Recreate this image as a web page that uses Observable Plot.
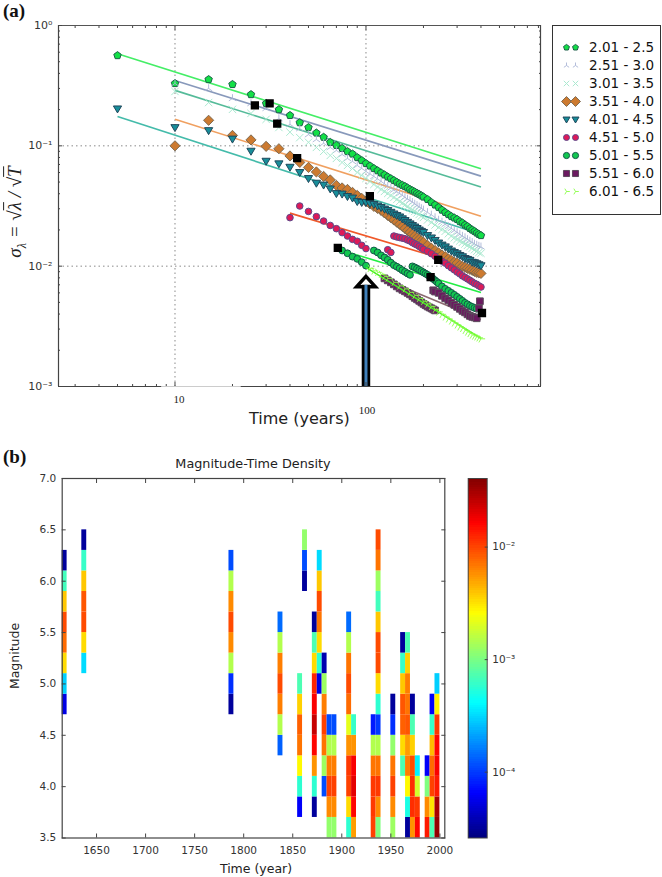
<!DOCTYPE html>
<html><head><meta charset="utf-8">
<style>
html,body{margin:0;padding:0;background:#fff;width:662px;height:877px;overflow:hidden}
#page{position:relative;width:662px;height:877px;font-family:"DejaVu Sans",sans-serif}
#page>*{position:absolute}
#page svg{display:block;background:transparent}
.tag{font:bold 19px "Liberation Serif",serif;color:#111;line-height:1}
.lab{color:#222;white-space:nowrap;line-height:1}
.over{text-decoration:overline}
</style>
<script src="https://cdn.jsdelivr.net/npm/d3@7"></script>
<script src="https://cdn.jsdelivr.net/npm/@observablehq/plot@0.6"></script>
</head><body><div id="page"></div>
<script>
// ---------- panel (a) data ----------
const seriesNames = ["2.01 - 2.5","2.51 - 3.0","3.01 - 3.5","3.51 - 4.0","4.01 - 4.5","4.51 - 5.0","5.01 - 5.5","5.51 - 6.0","6.01 - 6.5"];
const timesFull = [5,10,15,20,25,30,35,40,45,50,55,60,65,70,75,80,85,90,95,100,105,110,115,120,125,130,135,140,145,150,155,160,165,170,175,180,185,190,195,200,210,220,230,240,250,260,270,280,290,300,310,320,330,340,350,360,370,380,390,400];
const sigma1 = [.563,.33,.356,.324,.267,.225,.2,.179,.156,.142,.128,.118,.107,.101,.0953,.0897,.0856,.08,.0756,.0714,.0681,.0649,.0622,.0596,.0574,.0552,.0534,.0516,.0499,.0483,.0471,.046,.0447,.0434,.0424,.0414,.0404,.0395,.0385,.0376,.0359,.0339,.0323,.0308,.0293,.028,.0269,.0259,.0252,.0245,.0235,.0229,.022,.0214,.0206,.02,.0195,.0189,.0184,.018];
const sigma2 = [.33,.3,.248,.225,.205,.169,.151,.139,.124,.113,.105,.097,.0916,.0848,.0786,.0742,.0687,.0649,.0613,.0585,.0557,.0531,.0506,.0484,.0464,.0447,.043,.0416,.0402,.0387,.0373,.0362,.0352,.034,.0329,.032,.0311,.0302,.0294,.028,.0267,.0254,.0242,.0233,.0223,.0214,.0206,.0198,.0191,.0184,.0178,.0173,.0167,.0162,.0158,.0153,.015,.0147,.0145];
const sigma3 = [.283,.229,.201,.186,.166,.142,.13,.117,.107,.097,.0898,.0832,.0786,.0728,.0687,.0649,.0601,.0568,.0536,.0506,.0478,.0455,.0434,.0418,.0402,.0387,.0373,.0359,.0345,.0334,.0323,.0312,.0302,.0293,.0285,.0277,.0269,.0261,.0254,.0242,.0231,.022,.021,.0202,.0195,.0186,.0178,.0172,.0167,.0162,.0158,.0153,.0149,.0145,.0141,.0137,.0133,.013,.0128];
const sigma4 = [.1,.163,.122,.112,.099,.0946,.0824,.0728,.0661,.0607,.0557,.0521,.0469,.0447,.0434,.041,.0387,.0366,.0345,.0329,.0314,.0302,.0291,.0277,.0264,.0253,.0242,.0232,.0223,.0214,.0206,.0198,.0191,.0184,.0178,.0172,.0167,.0162,.0158,.0149,.0141,.0135,.0129,.0124,.012,.0115,.0112,.0108,.0106,.0102,.00996,.00977,.00959,.00941,.00923,.00905,.00888,.0088,.00871];
const sigma5 = [.203,.142,.134,.114,.0904,.0746,.071,.0665,.0601,.0536,.049,.0473,.0439,.0402,.0398,.038,.0369,.0345,.0339,.0339,.0332,.0326,.0317,.0308,.0299,.0291,.0281,.0272,.0264,.0257,.0248,.024,.0232,.0225,.0218,.0212,.0206,.02,.0195,.0191,.018,.0172,.0164,.0156,.015,.0145,.0139,.0134,.013,.0127,.0123,.012,.0116,.0114,.0112,.0108,.0107,.0105,.0103,.0101];
const times6 = [40,45,50,55,60,65,70,75,80,85,90,95,100,130,135,140,145,150,155,160,165,170,175,180,185,190,195,200,210,220,230,240,250,260,270,280,290,300,310,320,330,340,350,360,370,380,390,400];
const sigma6 = [.0253,.0316,.0285,.0258,.0237,.0218,.0205,.019,.0178,.0167,.0161,.0149,.014,.0137,.013,.0178,.0175,.0173,.0171,.0169,.0165,.0162,.0157,.0153,.015,.0146,.0142,.0138,.0133,.0127,.0121,.0115,.011,.0106,.0101,.00968,.00932,.00894,.00863,.0083,.00807,.00784,.00762,.0074,.00719,.00706,.00686,.00671];
const times7 = [75,80,85,90,95,100,110,115,120,125,130,135,140,145,150,155,160,165,170,175,180,185,190,195,200,205,210,215,220,225,230,235,240,250,260,270,280,290,300,310,320,330,340,350,360,370,380];
const sigma7 = [.0135,.0128,.012,.0115,.0108,.0101,.0135,.013,.0123,.0118,.0113,.0107,.0102,.0099,.00959,.00925,.00897,.0087,.00847,.00996,.00977,.00955,.00932,.0091,.00888,.00867,.00847,.00827,.00807,.00784,.00762,.0074,.00719,.00679,.00648,.00624,.006,.00578,.00556,.00535,.00515,.00496,.00482,.00468,.00459,.0045,.00443];
const times8 = [125,130,135,140,145,150,155,160,165,170,175,180,185,190,195,200,205,210,215,220,225,230,225,230,240,250,260,270,280,290,300,310,320,330,340,350,360,370,380,390,395];
const sigma8 = [.00792,.00762,.00734,.00706,.00679,.00654,.00636,.00618,.006,.00583,.00563,.00545,.0053,.00515,.005,.00486,.00474,.00463,.00454,.00446,.00437,.00429,.0063,.00615,.006,.00567,.0054,.0052,.00496,.00477,.00459,.00442,.00425,.00413,.00398,.00386,.00379,.00375,.00369,.00446,.00511];
const times9 = [105,110,115,120,125,130,140,150,160,170,180,190,200,210,220,230,240,250,260,270,280,290,300,310,320,330,340,350,360,370,380,390,400];
const sigma9 = [.00959,.00914,.00888,.00855,.00823,.00792,.00734,.00686,.00648,.00606,.00572,.0054,.00511,.00486,.00463,.00438,.00417,.00398,.00379,.00365,.00351,.00338,.00325,.00313,.00304,.00293,.00284,.00276,.00268,.00263,.00259,.00254,.00249];
const fitT0 = [5,10,10,10,5,40,75,125,100];
const fitT1 = [400,400,400,400,400,400,400,400,400];
const fitS0 = [.582,.349,.289,.166,.175,.0276,.0135,.00776,.00977];
const fitS1 = [.0645,.056,.0454,.026,.0184,.00923,.00603,.00361,.00251];
const breakT = [26.2,31.3,34.3,43.6,104.8,71.2,239,218,405];
const breakS = [.217,.225,.153,.079,.0382,.0142,.0113,.00812,.00408];
const xMajor = [10,100];
const xMajorLabels = ["10","100"];
const yMajor = [1,.1,.01,.001];
const yMajorLabels = ["10⁰","10⁻¹","10⁻²","10⁻³"];
const xMinor = [3,4,5,6,7,8,9,20,30,40,50,60,70,80,90,200,300,400,500,600,700,800];
const yMinor = [.9,.8,.7,.6,.5,.4,.3,.2,.09,.08,.07,.06,.05,.04,.03,.02,.009,.008,.007,.006,.005,.004,.003,.002];
const arrowT = 100, arrowBase = .001, arrowNeck = .00693, arrowHead = .00748;

// ---------- panel (b) data: density per 0.2 magnitude bin, lowest bin first ----------
const cellYears = [1615,1635,1785,1835,1855,1860,1870,1875,1880,1885,1890,1905,1910,1930,1935,1950,1960,1965,1970,1975,1985,1990,1995];
const cellLowest = [4.7,5.1,4.7,4.3,3.7,5.9,3.7,4.9,3.9,3.5,3.5,3.5,3.5,3.5,3.5,3.5,4.1,3.5,3.5,3.5,3.5,3.5,3.5];
const cellDensity = [
 [5.4e-5,2.9e-4,3.33e-3,7.5e-3,9.4e-3,3.86e-3,6.6e-4,3.2e-5],
 [3.2e-4,3.33e-3,9.4e-3,8.7e-3,3.86e-3,6.1e-4,3.2e-5],
 [3.2e-5,9.1e-5,1.48e-3,6e-3,9.4e-3,6e-3,1.48e-3,1.13e-4],
 [1.31e-4,1.48e-3,6.5e-3,9.4e-3,6.5e-3,1.48e-3,1.41e-4],
 [6.3e-5,5.7e-4,2.67e-3,7e-3,8.1e-3,3.6e-3,7.1e-4],
 [3.2e-5,1.13e-4,1.19e-3],
 [3.2e-5,5.7e-4,5.6e-3,1.56e-2,2.43e-2,1.68e-2,1.25e-2,3.33e-3,7.1e-4,3.2e-5],
 [5.4e-5,5.7e-4,3.33e-3,7e-3,9.4e-3,3.86e-3,3.2e-4],
 [1.13e-4,1.28e-3,7e-3,1.01e-2,6.5e-3,1.28e-3,3.7e-5],
 [1.19e-3,6e-3,1.01e-2,6.5e-3,1.48e-3,1.13e-4],
 [1.19e-3,6e-3,1.01e-2,6.5e-3,1.48e-3,1.13e-4],
 [5.7e-4,3.33e-3,1.01e-2,1.08e-2,5.6e-3,2.14e-3,7.5e-3,9.4e-3,7e-3,1.48e-3,1.41e-4],
 [5.2e-3,1.56e-2,1.95e-2,1.68e-2,5.6e-3,6.1e-4],
 [1.01e-2,1.08e-2,1.08e-2,7e-3,1.48e-3,7.8e-5],
 [1.03e-3,6e-3,1.08e-2,7e-3,1.48e-3,9.8e-5,5.7e-4,3.33e-3,9.4e-3,9.4e-3,3.86e-3,6.6e-4,1.28e-3,7e-3,9.4e-3],
 [1.28e-3,6e-3,1.01e-2,7e-3,1.19e-3,9.1e-5,3.2e-5],
 [7.1e-4,3.33e-3,8.1e-3,8.7e-3,3.86e-3,6.1e-4,3.2e-5],
 [3.2e-5,4.9e-4,2.67e-3,6.5e-3,5.2e-3,8.7e-3,7e-3,6.5e-3,3.6e-3,7.1e-4],
 [5.6e-3,1.17e-2,1.17e-2,9.4e-3,3.6e-3,7.1e-4,3.2e-5],
 [1.56e-2,1.08e-2,1.85e-3,3.7e-4],
 [1.35e-2,6e-3,1.03e-3,6.3e-5],
 [7.1e-4,3.1e-3,1.01e-2,7.5e-3,4.16e-3,6.1e-4,6.3e-5],
 [3.5e-2,3.03e-2,1.35e-2,1.68e-2,1.56e-2,1.08e-2,2.88e-3,2.9e-4]
];
const binWidth = 0.2, yearWidth = 5;
const timeTicks = [1650,1700,1750,1800,1850,1900,1950,2000];
const magTicks = [3.5,4,4.5,5,5.5,6,6.5,7];
const densityDomain = [2.6e-5,.0407];
const densityTicks = [.01,.001,.0001];
const densityLabels = ["10⁻²","10⁻³","10⁻⁴"];
const jetStops = ["#00007f","#0000ff","#007fff","#00ffff","#7fff7f","#ffff00","#ff7f00","#ff0000","#7f0000"];

// ---------- styles ----------
const polygon = pts => ({draw(c,size){const r=Math.sqrt(size/Math.PI);pts.forEach(([x,y],i)=>i?c.lineTo(x*r,y*r):c.moveTo(x*r,y*r));c.closePath();}});
const spokes = pts => ({draw(c,size){const r=Math.sqrt(size/Math.PI);pts.forEach(([x,y])=>{c.moveTo(0,0);c.lineTo(x*r,y*r);});}});
const pentagon = polygon([[0,-1],[.951,-.309],[.588,.809],[-.588,.809],[-.951,-.309]]);
const triDown = polygon([[-1,-.7],[1,-.7],[0,1]]);
const diamond = polygon([[0,-1],[1,0],[0,1],[-1,0]]);
const square = polygon([[-.8,-.8],[.8,-.8],[.8,.8],[-.8,.8]]);
const circle = "circle";
const wyeUp = spokes([[0,-1],[.87,.6],[-.87,.6]]);
const cross = spokes([[.8,.8],[-.8,-.8],[.8,-.8],[-.8,.8]]);
const triRight = spokes([[1.1,0],[-.55,.95],[-.55,-.95]]);
const headShape = polygon([[0,-.55],[1.05,.6],[-1.05,.6]]);
const looks = [
 {symbol:pentagon,r:3.9,fill:"#12e046",stroke:"#1c5f48",strokeWidth:1},
 {symbol:wyeUp,r:4.2,fill:"none",stroke:"#aab6d6",strokeWidth:.9},
 {symbol:cross,r:4.6,fill:"none",stroke:"#a2e6cb",strokeWidth:.9},
 {symbol:diamond,r:5.1,fill:"#cc7a30",stroke:"#75654f",strokeWidth:.9},
 {symbol:triDown,r:4.1,fill:"#178e9a",stroke:"#20485c",strokeWidth:1},
 {symbol:circle,r:3.3,fill:"#de1a58",stroke:"#5d4a8c",strokeWidth:1},
 {symbol:circle,r:3.4,fill:"#12c850",stroke:"#14584a",strokeWidth:1},
 {symbol:square,r:4.2,fill:"#6b1a60",stroke:"#5c4a5c",strokeWidth:1},
 {symbol:triRight,r:3.8,fill:"none",stroke:"#88ff44",strokeWidth:.9}
];
const legendRadius = [3.1,3,3.4,5,3.5,3,3.1,3.8,3];
const lineColors = ["#44ee66","#8899bb","#55bb99","#f0a060","#44bbaa","#f0592a","#22ee44","#8b6a70","#44ee22"];
const lineOf = i => Plot.link([0],{x1:()=>fitT0[i],y1:()=>fitS0[i],x2:()=>fitT1[i],y2:()=>fitS1[i],stroke:lineColors[i],strokeWidth:1.6});
const zip = (ts,ss) => ss.map((s,i)=>({t:ts[i],s}));
const ptsData = [
 zip(timesFull,sigma1),zip(timesFull.slice(1),sigma2),zip(timesFull.slice(1),sigma3),zip(timesFull.slice(1),sigma4),zip(timesFull,sigma5),
 zip(times6,sigma6),zip(times7,sigma7),zip(times8,sigma8),zip(times9,sigma9)
];
const pointsOf = i => Plot.dot(ptsData[i],{x:"t",y:"s",...looks[i]});
const page = document.getElementById("page");
const add = el => (page.appendChild(el),el);
const place = (el,l,t) => {el.style.left=l+"px";el.style.top=t+"px";return el;};
const inkAxis = "#444";

// ---------- panel (a) ----------
const panelA = Plot.plot({
  width:545,height:430,marginLeft:58,marginRight:5,marginTop:25,marginBottom:44,
  style:{fontFamily:"DejaVu Sans, sans-serif",background:"transparent"},
  x:{type:"log",domain:[2.455,820],axis:null},
  y:{type:"log",domain:[.001,1],axis:null},
  marks:[
    Plot.ruleX(xMajor,{stroke:"#8a8a8a",strokeDasharray:"1.5,3"}),
    Plot.ruleY(yMajor.slice(1,3),{stroke:"#8a8a8a",strokeDasharray:"1.5,3"}),
    [0,1,2,3,4,5,6,7].map(lineOf),
    [0,1,2,3,4,5,6,7].map(pointsOf),
    lineOf(8),pointsOf(8),
    Plot.dot(zip(breakT,breakS),{x:"t",y:"s",symbol:polygon([[-1,-1],[1,-1],[1,1],[-1,1]]),r:3.4,fill:"#000",stroke:"#000"}),
    Plot.dot([arrowT],{x:d=>d,y:()=>arrowHead,symbol:headShape,r:9,fill:"#fff",stroke:"#000",strokeWidth:3.4}),
    Plot.ruleX([arrowT],{y1:arrowBase,y2:arrowNeck,stroke:"#000",strokeWidth:8.5}),
    Plot.ruleX([arrowT],{y1:arrowBase,y2:arrowNeck,stroke:"#3f80bb",strokeWidth:3}),
    Plot.ruleY([1],{stroke:"#555",strokeWidth:1.2}),
    Plot.ruleX([2.455,820],{stroke:inkAxis,strokeWidth:1.2}),
    Plot.ruleY([.001],{x1:2.455,x2:8.55,stroke:inkAxis,strokeWidth:1.2}),
    Plot.ruleY([.001],{x1:8.55,x2:22.2,stroke:"#ccc",strokeWidth:1}),
    Plot.ruleY([.001],{x1:22.2,x2:820,stroke:inkAxis,strokeWidth:1.2}),
    Plot.axisY({anchor:"left",ticks:yMajor,tickSize:-4,tickPadding:10,tickFormat:d=>yMajorLabels[yMajor.indexOf(d)],fontSize:11,label:null,stroke:inkAxis,fill:"#333"}),
    Plot.axisY({anchor:"left",ticks:yMinor,tickSize:-2,tickFormat:()=>"",label:null,stroke:inkAxis}),
    Plot.axisY({anchor:"right",ticks:yMajor,tickSize:-4,tickFormat:()=>"",label:null,stroke:inkAxis}),
    Plot.axisY({anchor:"right",ticks:yMinor,tickSize:-2,tickFormat:()=>"",label:null,stroke:inkAxis}),
    Plot.axisX({anchor:"bottom",ticks:xMajor,tickSize:-4,tickFormat:()=>"",label:null,stroke:inkAxis}),
    Plot.axisX({anchor:"bottom",ticks:xMinor,tickSize:-2,tickFormat:()=>"",label:null,stroke:inkAxis}),
    Plot.axisX({anchor:"top",ticks:xMajor,tickSize:-4,tickFormat:()=>"",label:null,stroke:inkAxis}),
    Plot.axisX({anchor:"top",ticks:xMinor,tickSize:-2,tickFormat:()=>"",label:null,stroke:inkAxis}),
    Plot.text(xMajorLabels.slice(0,1),{x:()=>xMajor[0],y:()=>.001,dx:4,dy:13,fontFamily:"Liberation Serif, serif",fontSize:11,fill:"#222"}),
    Plot.text(xMajorLabels.slice(1),{x:()=>xMajor[1],y:()=>.001,dx:1,dy:24,fontFamily:"Liberation Serif, serif",fontSize:11,fill:"#222"})
  ]
});
place(add(panelA),0,0);

// legend of panel (a)
const legendCols = ["first","second"];
const legend = Plot.plot({
  width:110,height:190,marginLeft:0,marginTop:0,marginRight:2,marginBottom:1,
  style:{fontFamily:"DejaVu Sans, sans-serif",background:"transparent"},
  x:{type:"point",domain:legendCols,range:[9.3,27.7],axis:null},
  y:{type:"point",domain:seriesNames,range:[11.5,175.5],axis:null},
  marks:[
    Plot.frame({stroke:"#333",strokeWidth:1}),
    seriesNames.map((n,i)=>Plot.dot(legendCols,{x:d=>d,y:()=>n,...looks[i],r:legendRadius[i]})),
    Plot.text(seriesNames,{x:()=>"second",y:d=>d,dx:13.6,text:d=>d,textAnchor:"start",fontSize:13.5,fill:"#111"})
  ]
});
place(add(legend),552,25);

// ---------- panel (b) ----------
const cells = cellYears.flatMap((year,i)=>cellDensity[i].map((v,j)=>({
  x1:year,x2:year+yearWidth,y1:cellLowest[i]+j*binWidth,y2:cellLowest[i]+(j+1)*binWidth,v
})));
const jet = d3.piecewise(d3.interpolateRgb,jetStops);
const colorOpts = {type:"log",domain:densityDomain,interpolate:jet,clamp:true};
const panelB = Plot.plot({
  width:480,height:437,marginLeft:61.7,marginRight:35.7,marginTop:38,marginBottom:39.5,
  style:{fontFamily:"DejaVu Sans, sans-serif",background:"transparent"},
  x:{domain:[1615,2005],axis:null},
  y:{domain:[3.5,7],axis:null},
  color:colorOpts,
  marks:[
    Plot.rect(cells,{x1:"x1",x2:"x2",y1:"y1",y2:"y2",fill:"v"}),
    Plot.frame({stroke:"#444",strokeWidth:1.2}),
    Plot.axisY({anchor:"left",ticks:magTicks,tickSize:-4,tickPadding:10,tickFormat:d3.format(".1f"),fontSize:10.5,label:null,stroke:inkAxis,fill:"#333"}),
    Plot.axisY({anchor:"right",ticks:magTicks,tickSize:-4,tickFormat:()=>"",label:null,stroke:inkAxis}),
    Plot.axisX({anchor:"bottom",ticks:timeTicks,tickSize:-4,tickPadding:13,tickFormat:d3.format("d"),fontSize:10.5,label:null,stroke:inkAxis,fill:"#333"}),
    Plot.axisX({anchor:"top",ticks:timeTicks,tickSize:-4,tickFormat:()=>"",label:null,stroke:inkAxis})
  ]
});
place(add(panelB),0,440);

// colour bar
const gradientSteps = 160;
const logLo = Math.log10(densityDomain[0]), logHi = Math.log10(densityDomain[1]);
const gradient = d3.range(gradientSteps).map(i=>{
  const a=logLo+(logHi-logLo)*i/gradientSteps, b=logLo+(logHi-logLo)*(i+1)/gradientSteps;
  return {lo:10**a,hi:10**b,v:10**((a+b)/2)};
});
const colorbar = Plot.plot({
  width:80,height:437,marginLeft:7.7,marginRight:53.3,marginTop:38,marginBottom:39.5,
  style:{fontFamily:"DejaVu Sans, sans-serif",background:"transparent"},
  x:{domain:[0,1],axis:null},
  y:{type:"log",domain:densityDomain,axis:null},
  color:colorOpts,
  marks:[
    Plot.rect(gradient,{x1:()=>0,x2:()=>1,y1:"lo",y2:"hi",fill:"v",shapeRendering:"crispEdges"}),
    Plot.frame({stroke:"#444",strokeWidth:1}),
    Plot.axisY({anchor:"right",ticks:densityTicks,tickSize:-3,tickPadding:8,tickFormat:d=>densityLabels[densityTicks.indexOf(d)],fontSize:10.5,label:null,stroke:inkAxis,fill:"#333"})
  ]
});
place(add(colorbar),460,440);

// ---------- text ----------
const html = (cls,style,content)=>{const d=document.createElement("div");d.className=cls;d.style.cssText=style;d.innerHTML=content;return add(d);};
html("tag","left:3px;top:1px","(a)");
html("tag","left:3px;top:447px","(b)");
html("lab","left:249px;top:411px;font-size:16px","Time (years)");
html("lab","left:17px;top:212px;font:italic 19px 'Liberation Serif',serif;transform:translate(-50%,-50%) rotate(-90deg)",
  "σ<sub style='font-size:12px'>λ</sub> = √<span class='over'>λ</span> / √<span class='over'>T</span>");
html("lab","left:253px;top:464px;font-size:12.8px;transform:translate(-50%,-50%)","Magnitude-Time Density");
html("lab","left:15px;top:656px;font-size:12.5px;transform:translate(-50%,-50%) rotate(-90deg)","Magnitude");
html("lab","left:256px;top:869px;font-size:12.5px;transform:translate(-50%,-50%)","Time (year)");
</script></body></html>
